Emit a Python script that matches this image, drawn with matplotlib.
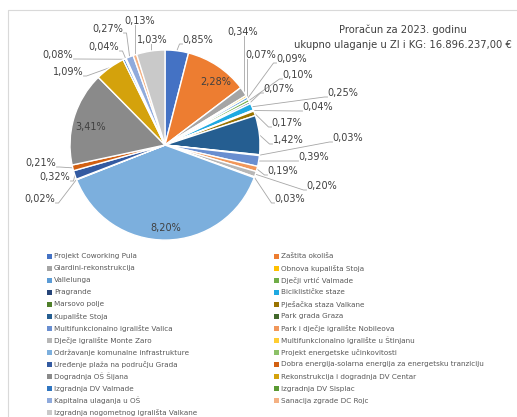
"""Proračun 2023: udio projekata ZI i KG, tortni grafikon s legendom."""

import matplotlib
matplotlib.use("Agg")
import matplotlib.pyplot as plt
import numpy as np
from matplotlib.patches import Rectangle

projects = [
    "Projekt Coworking Pula",
    "Zaštita okoliša",
    "Giardini-rekonstrukcija",
    "Obnova kupališta Stoja",
    "Vallelunga",
    "Dječji vrtić Valmade",
    "Pragrande",
    "Biciklističke staze",
    "Marsovo polje",
    "Pješačka staza Valkane",
    "Kupalište Stoja",
    "Park grada Graza",
    "Multifunkcionalno igralište Valica",
    "Park i dječje igralište Nobileova",
    "Dječje igralište Monte Zaro",
    "Multifunkcionalno igralište u Štinjanu",
    "Održavanje komunalne infrastrukture",
    "Projekt energetske učinkovitosti",
    "Uređenje plaža na području Grada",
    "Dobra energija-solarna energija za energetsku tranziciju",
    "Dogradnja OŠ Šijana",
    "Rekonstrukcija i dogradnja DV Centar",
    "Izgradnja DV Valmade",
    "Izgradnja DV Sisplac",
    "Kapitalna ulaganja u OŠ",
    "Sanacija zgrade DC Rojc",
    "Izgradnja nogometnog igrališta Valkane",
]

# udio u proračunu (%)
shares = [0.85, 2.28, 0.34, 0.07, 0.09, 0.10, 0.07, 0.25, 0.04, 0.17,
          1.42, 0.03, 0.39, 0.19, 0.20, 0.03, 8.20, 0.02, 0.32, 0.21,
          3.41, 1.09, 0.08, 0.04, 0.27, 0.13, 1.03]

colors = ["#4472C4", "#ED7D31", "#A5A5A5", "#FFC000", "#5B9BD5", "#70AD47",
          "#264478", "#1EA9E1", "#4F7F2A", "#997300", "#255E91", "#43682B",
          "#698ED0", "#F1975A", "#B7B7B7", "#FFCD33", "#7CAFDD", "#8CC168",
          "#335AA1", "#D26012", "#8A8A8A", "#D4A20C", "#2F75C0", "#5A9A33",
          "#8FAADC", "#F4B183", "#C9C9C9"]

title_lines = ["Proračun za 2023. godinu",
               "ukupno ulaganje u ZI i KG: 16.896.237,00 €"]

W, H = 517, 417
CX, CY, R = 165, H - 145, 95

# položaji oznaka u pikselima (x, y od vrha); None = oznaka unutar isječka
label_pos = [(198, 40), None, (243, 32), (261, 55), (292, 59), (298, 75),
             (279, 89), (343, 93), (318, 107), (287, 123), (288, 140),
             (348, 138), (314, 157), (283, 171), (322, 186), (290, 199),
             None, (40, 199), (55, 177), (41, 163), None, (68, 72),
             (58, 55), (104, 47), (108, 29), (140, 21), (152, 40)]
inside_pos = {1: (216, 82), 16: (166, 228), 20: (91, 127)}

TXT = "#404040"
LINE = "#A6A6A6"

fig = plt.figure(figsize=(W / 100, H / 100), dpi=100)
ax = fig.add_axes([0, 0, 1, 1])

# okvir područja grafikona
ax.plot([8, 8, W + 5], [-5, H - 10, H - 10], color="#D9D9D9", lw=0.8)

explode = [0.07 if v == max(shares) else 0 for v in shares]
wedges, _ = ax.pie(shares, colors=colors, startangle=90, counterclock=False,
                   center=(CX, CY), radius=R, explode=explode,
                   wedgeprops=dict(edgecolor="white", linewidth=1.0),
                   frame=True)
ax.set_xlim(0, W)
ax.set_ylim(0, H)
ax.set_aspect("equal")
ax.axis("off")

total = sum(shares)
cum = np.cumsum([0] + shares[:-1])
lw_txt = 29
for i, v in enumerate(shares):
    text = f"{v:.2f}%".replace(".", ",")
    if label_pos[i] is None:
        px, py = inside_pos[i]
        ax.text(px, H - py, text, ha="center", va="center", fontsize=7,
                color=TXT)
        continue
    mid = np.deg2rad(90 - 360 * (cum[i] + v / 2) / total)
    ex = CX + R * np.cos(mid)
    ey = CY + R * np.sin(mid)
    px, py = label_pos[i]
    ty = H - py
    ax.text(px, ty, text, ha="center", va="center", fontsize=7, color=TXT)
    left, right = px - lw_txt / 2, px + lw_txt / 2
    bottom = ty - 4
    if ex < left:
        xs, ys = [ex, left - 4, left - 1], [ey, bottom, bottom]
    elif ex > right:
        xs, ys = [ex, right + 4, right + 1], [ey, bottom, bottom]
    else:
        xs, ys = [ex, ex], [ey, bottom]
    ax.plot(xs, ys, color=LINE, lw=0.6, zorder=0.5)

for k, line in enumerate(title_lines):
    ax.text(403, H - 30 - 15 * k, line, ha="center", va="center",
            fontsize=7.2, color=TXT)

# legenda u dva stupca, redom po retcima
for i, (name, col) in enumerate(zip(projects, colors)):
    row, side = divmod(i, 2)
    x0 = 47 + side * 227
    y0 = H - (256 + row * 12.05)
    ax.add_patch(Rectangle((x0, y0 - 2.5), 5, 5, color=col, lw=0))
    ax.text(x0 + 7, y0, name, ha="left", va="center", fontsize=5.2,
            color="#595959")

fig.savefig("out.png", dpi=100)
